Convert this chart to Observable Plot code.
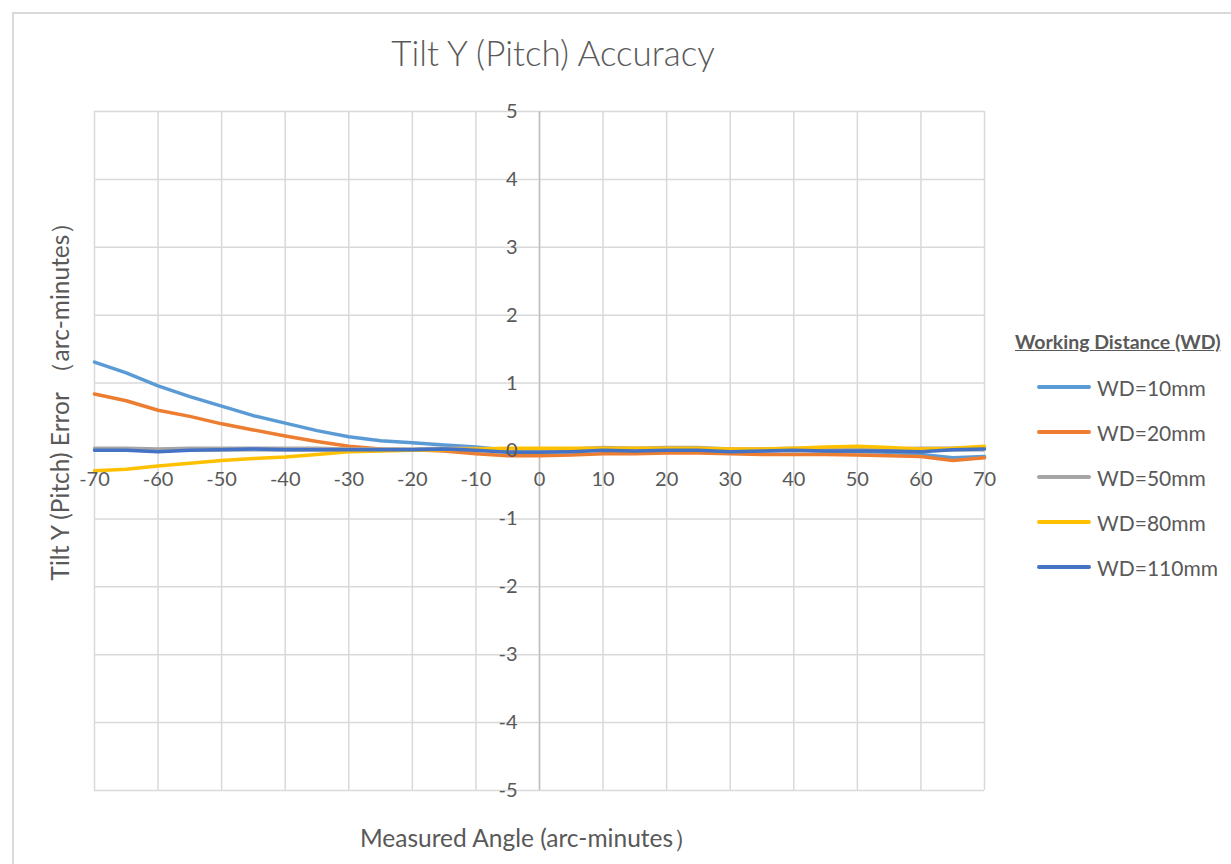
<!DOCTYPE html>
<html>
<head>
<meta charset="utf-8">
<script src="https://cdn.jsdelivr.net/npm/d3@7"></script>
<script src="https://cdn.jsdelivr.net/npm/@observablehq/plot@0.6"></script>
<style>
  html, body { margin: 0; padding: 0; background: #fff; overflow: hidden; }
  #wrap { position: relative; width: 1231px; height: 864px; overflow: hidden; font-family: Lato, "Open Sans", sans-serif; color: #595959; }
  #border { position: absolute; left: 12px; top: 12px; width: 1240px; height: 900px; border: 2px solid #d9d9d9; box-sizing: border-box; }
  #chart { position: absolute; left: 0; top: 0; }
  .t { position: absolute; white-space: nowrap; line-height: 1; }
  #title { left: 553px; top: 52px; transform: translate(-50%, -50%); font-size: 35px; font-weight: 300; }
  #xtitle { left: 529px; top: 838px; transform: translate(-50%, -50%); font-size: 24.5px; }
  #ytitle { left: 60px; top: 395px; transform: translate(-50%, -50%) rotate(-90deg); font-size: 24.5px; }
  #legend { position: absolute; left: 1015px; top: 330px; }
  #ltitle { position: absolute; left: 0; top: 0; font-size: 19.5px; font-weight: bold; text-decoration: underline; white-space: nowrap; }
  .item { position: absolute; left: 22px; height: 24px; display: flex; align-items: center; white-space: nowrap; font-size: 21px; }
  .sw { width: 54px; height: 4px; border-radius: 2px; margin-right: 6px; }
</style>
</head>
<body>
<div id="wrap">
  <div id="border"></div>
  <div id="chart"></div>
  <div class="t" id="title">Tilt Y (Pitch) Accuracy</div>
  <div class="t" id="xtitle">Measured Angle (arc-minutes）</div>
  <div class="t" id="ytitle">Tilt Y (Pitch) Error （arc-minutes）</div>
  <div id="legend"><div id="ltitle">Working Distance (WD)</div></div>
</div>
<script>
const angles = [-70,-65,-60,-55,-50,-45,-40,-35,-30,-25,-20,-15,-10,-5,0,5,10,15,20,25,30,35,40,45,50,55,60,65,70];
const seriesNames = ["WD=10mm","WD=20mm","WD=50mm","WD=80mm","WD=110mm"];
const seriesColors = ["#5B9BD5","#ED7D31","#A5A5A5","#FFC000","#4472C4"];
const wd10  = [1.31,1.15,0.96,0.80,0.66,0.52,0.41,0.30,0.21,0.15,0.12,0.09,0.06,0.01,-0.01,0.00,0.02,0.02,0.02,0.01,0.00,0.00,0.01,0.00,-0.01,-0.02,-0.05,-0.10,-0.08];
const wd20  = [0.84,0.74,0.60,0.51,0.40,0.31,0.22,0.14,0.07,0.03,0.02,0.00,-0.04,-0.07,-0.07,-0.06,-0.04,-0.04,-0.03,-0.03,-0.04,-0.05,-0.05,-0.05,-0.06,-0.07,-0.08,-0.14,-0.10];
const wd50  = [0.04,0.04,0.03,0.04,0.04,0.04,0.04,0.04,0.03,0.03,0.03,0.04,0.04,0.02,0.02,0.03,0.05,0.04,0.05,0.05,0.03,0.03,0.04,0.03,0.03,0.03,0.04,0.04,0.05];
const wd80  = [-0.29,-0.27,-0.22,-0.18,-0.14,-0.11,-0.09,-0.05,-0.01,0.00,0.01,0.02,0.03,0.04,0.04,0.04,0.04,0.04,0.04,0.04,0.03,0.03,0.04,0.06,0.07,0.05,0.03,0.04,0.07];
const wd110 = [0.01,0.01,-0.01,0.01,0.02,0.03,0.02,0.02,0.02,0.02,0.02,0.03,0.01,-0.02,-0.02,-0.01,0.01,0.00,0.01,0.01,-0.01,0.00,0.01,0.00,0.00,0.00,-0.01,0.02,0.03];
const xTicks = [-70,-60,-50,-40,-30,-20,-10,0,10,20,30,40,50,60,70];
const yTicks = [-5,-4,-3,-2,-1,0,1,2,3,4,5];

const allValues = [wd10, wd20, wd50, wd80, wd110];
const data = [];
seriesNames.forEach((name, i) => {
  angles.forEach((a, j) => data.push({series: name, angle: a, value: allValues[i][j]}));
});

const chart = Plot.plot({
  width: 1000,
  height: 864,
  marginTop: 111,
  marginBottom: 74,
  marginLeft: 94,
  marginRight: 16,
  style: {fontFamily: "Lato, 'Open Sans', sans-serif", fontSize: "20px", color: "#595959", background: "transparent"},
  x: {domain: [-70, 70], axis: null},
  y: {domain: [-5, 5], axis: null},
  color: {domain: seriesNames, range: seriesColors},
  marks: [
    Plot.gridX(xTicks, {stroke: "#d9d9d9", strokeOpacity: 1, strokeWidth: 1.5}),
    Plot.gridY(yTicks, {stroke: "#d9d9d9", strokeOpacity: 1, strokeWidth: 1.5}),
    Plot.ruleX([0], {stroke: "#bfbfbf", strokeWidth: 1.5}),
    Plot.ruleY([0], {stroke: "#bfbfbf", strokeWidth: 1.5}),
    Plot.line(data, {x: "angle", y: "value", z: "series", stroke: "series", strokeWidth: 3.5, strokeLinejoin: "round", strokeLinecap: "round"}),
    Plot.text(yTicks, {x: 0, y: d => d, text: d => String(d), textAnchor: "end", dx: -22, fill: "#595959"}),
    Plot.text(xTicks, {x: d => d, y: 0, text: d => String(d), dy: 29, fill: "#595959"})
  ]
});
document.getElementById("chart").appendChild(chart);

const legend = document.getElementById("legend");
const legendY = [57, 102, 147, 192, 237];
seriesNames.forEach((name, i) => {
  const it = document.createElement("div");
  it.className = "item";
  it.style.top = (legendY[i] - 12) + "px";
  const sw = document.createElement("div");
  sw.className = "sw";
  sw.style.background = seriesColors[i];
  const lb = document.createElement("span");
  lb.textContent = name;
  it.appendChild(sw);
  it.appendChild(lb);
  legend.appendChild(it);
});
</script>
</body>
</html>
